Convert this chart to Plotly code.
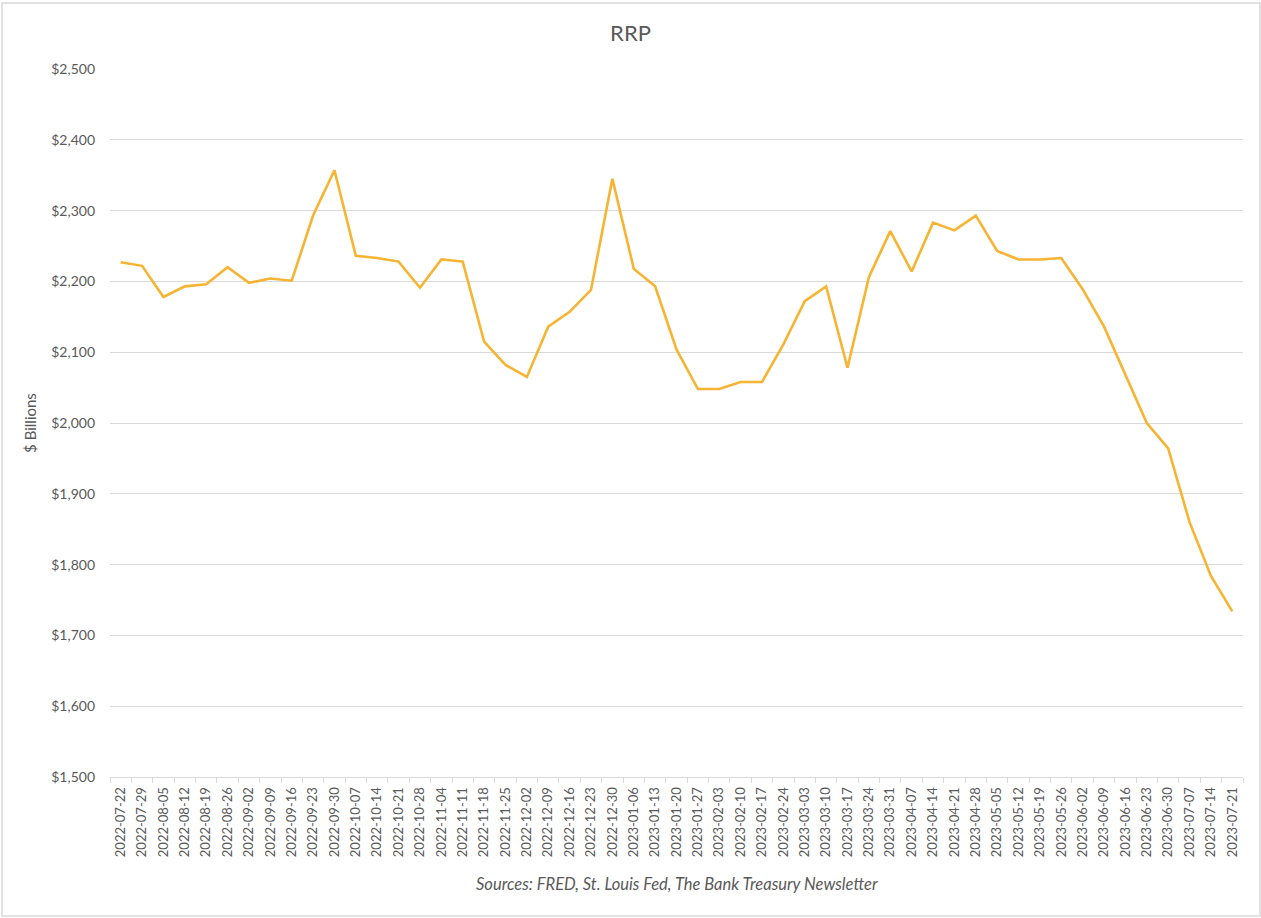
import plotly.graph_objects as go

dates = [
    "2022-07-22", "2022-07-29", "2022-08-05", "2022-08-12", "2022-08-19", "2022-08-26",
    "2022-09-02", "2022-09-09", "2022-09-16", "2022-09-23", "2022-09-30", "2022-10-07",
    "2022-10-14", "2022-10-21", "2022-10-28", "2022-11-04", "2022-11-11", "2022-11-18",
    "2022-11-25", "2022-12-02", "2022-12-09", "2022-12-16", "2022-12-23", "2022-12-30",
    "2023-01-06", "2023-01-13", "2023-01-20", "2023-01-27", "2023-02-03", "2023-02-10",
    "2023-02-17", "2023-02-24", "2023-03-03", "2023-03-10", "2023-03-17", "2023-03-24",
    "2023-03-31", "2023-04-07", "2023-04-14", "2023-04-21", "2023-04-28", "2023-05-05",
    "2023-05-12", "2023-05-19", "2023-05-26", "2023-06-02", "2023-06-09", "2023-06-16",
    "2023-06-23", "2023-06-30", "2023-07-07", "2023-07-14", "2023-07-21",
]

rrp_billions = [
    2227, 2222, 2178, 2193, 2196, 2220, 2198, 2204, 2201, 2293, 2357, 2236,
    2233, 2228, 2191, 2231, 2228, 2115, 2082, 2065, 2136, 2157, 2188, 2345,
    2218, 2193, 2104, 2048, 2048, 2058, 2058, 2111, 2172, 2193, 2078, 2206,
    2271, 2214, 2283, 2272, 2293, 2243, 2231, 2231, 2233, 2189, 2136, 2068,
    2000, 1964, 1860, 1784, 1734,
]

y_ticks = [1500, 1600, 1700, 1800, 1900, 2000, 2100, 2200, 2300, 2400, 2500]
y_tick_labels = ["$" + f"{v:,}" for v in y_ticks]

title_text = "RRP"
y_title = "$ Billions"
source_text = "Sources: FRED, St. Louis Fed, The Bank Treasury Newsletter"

FONT = "Lato, 'Open Sans', sans-serif"
GREY = "#595959"
GRID = "#D9D9D9"

fig = go.Figure()
fig.add_trace(go.Scatter(
    x=dates, y=rrp_billions, mode="lines",
    line=dict(color="#F6B432", width=2.6),
    showlegend=False,
))

fig.update_layout(
    width=1261, height=918,
    margin=dict(l=110, r=18, t=69, b=141),
    paper_bgcolor="white", plot_bgcolor="white",
    font=dict(family=FONT, color=GREY),
    title=dict(text=title_text, x=0.5, xref="container", xanchor="center",
               y=1 - 33 / 918, yref="container", yanchor="middle",
               font=dict(size=22, color=GREY, family=FONT)),
    xaxis=dict(
        type="category", range=[-0.5, len(dates) - 0.5],
        tickangle=-90, tickfont=dict(size=13, color=GREY),
        showgrid=False, showline=True, linecolor=GRID, linewidth=1,
        ticks="outside", tickson="boundaries", ticklen=5, tickcolor=GRID,
        ticklabelstandoff=4, zeroline=False,
    ),
    yaxis=dict(
        range=[1500, 2500], tickvals=y_ticks, ticktext=y_tick_labels,
        tickfont=dict(size=14, color=GREY), showgrid=True, gridcolor=GRID,
        gridwidth=1, zeroline=False, showline=False, ticks="",
        ticklabelstandoff=14,
        title=dict(text=y_title, font=dict(size=15, color=GREY), standoff=10),
    ),
    shapes=[dict(type="rect", xref="paper", yref="paper",
                 x0=-0.0953, x1=1.015, y0=-0.1963, y1=1.0932,
                 line=dict(color="#D9D9D9", width=1.5), layer="below")],
    annotations=[dict(text="<i>" + source_text + "</i>", xref="paper", yref="paper",
                      x=0.5, y=(777 - 884) / 708, xanchor="center", yanchor="middle",
                      showarrow=False, font=dict(size=16.5, color=GREY, family=FONT))],
)

fig.write_html("out.html")
